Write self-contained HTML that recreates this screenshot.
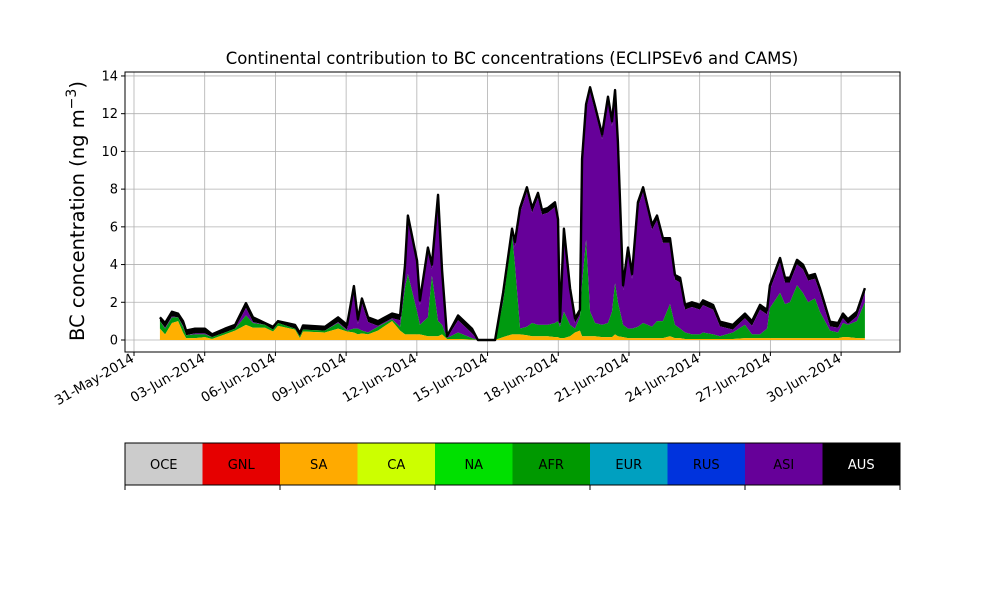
<!DOCTYPE html>
<html><head><meta charset="utf-8"><style>
body{margin:0;background:#fff}
svg text{font-family:"DejaVu Sans","Liberation Sans",sans-serif}
</style></head><body>
<svg id="chart" width="1000" height="600" xmlns="http://www.w3.org/2000/svg">
<rect width="1000" height="600" fill="#fff"/>
<text x="512" y="64" font-size="16.5" text-anchor="middle">Continental contribution to BC concentrations (ECLIPSEv6 and CAMS)</text>
<text transform="translate(84,211) rotate(-90)" font-size="19.5" text-anchor="middle">BC concentration (ng m<tspan dy="-8" font-size="14">−3</tspan><tspan dy="8">)</tspan></text>
<g id="grid"></g><g id="areas"></g><g id="axes"></g><g id="cbar"></g>
</svg>
<script>
const days=[1.10,1.32,1.61,1.87,2.08,2.21,2.59,3.01,3.31,3.86,4.29,4.75,5.05,5.56,5.90,6.11,6.83,7.04,7.17,8.10,8.66,9.04,9.33,9.50,9.67,9.93,10.35,10.95,11.29,11.50,11.62,12.01,12.13,12.47,12.64,12.90,13.07,13.28,13.75,14.34,14.59,15.32,15.66,16.04,16.16,16.38,16.67,16.89,17.14,17.31,17.56,17.86,17.99,18.07,18.24,18.50,18.71,18.92,19.01,19.18,19.35,19.56,19.86,20.11,20.28,20.41,20.53,20.75,20.96,21.13,21.38,21.60,21.98,22.19,22.44,22.74,22.95,23.17,23.38,23.67,24.01,24.14,24.57,24.86,25.41,25.92,26.22,26.56,26.86,26.98,27.41,27.62,27.83,28.13,28.38,28.60,28.89,29.10,29.53,29.87,30.08,30.29,30.67,31.01];
const totalVals=[1.2,0.9,1.5,1.4,1.0,0.5,0.6,0.6,0.3,0.6,0.8,1.95,1.2,0.9,0.7,1.0,0.8,0.37,0.77,0.7,1.2,0.8,2.86,1.1,2.2,1.2,1.0,1.4,1.3,4.0,6.6,4.2,2.1,4.9,4.0,7.7,3.7,0.2,1.3,0.6,0,0,2.5,5.9,5.2,7.0,8.1,7.0,7.8,6.9,7.0,7.3,6.4,0.97,5.9,2.75,1.15,1.6,9.6,12.5,13.4,12.4,10.9,12.9,11.6,13.25,10.5,2.9,4.9,3.5,7.3,8.1,6.1,6.6,5.4,5.4,3.45,3.3,1.86,2.0,1.86,2.1,1.86,0.97,0.8,1.4,1.0,1.86,1.6,2.9,4.35,3.3,3.3,4.25,4.0,3.4,3.5,2.75,0.97,0.9,1.4,1.1,1.5,2.75];
const saAfrVals=[1.0,0.6,1.2,1.2,0.7,0.25,0.3,0.3,0.15,0.4,0.6,1.3,0.9,0.8,0.55,0.9,0.6,0.2,0.55,0.5,0.9,0.5,0.6,0.6,0.5,0.4,0.7,1.1,0.7,2.8,3.5,1.5,0.8,1.2,3.4,1.0,0.8,0.1,0.4,0.1,0,0,2.0,5.6,4.0,0.6,0.7,0.9,0.8,0.8,0.8,0.9,1.0,0.7,1.5,0.8,0.6,1.2,3.0,5.3,1.5,0.9,0.8,0.9,1.5,3.0,2.0,0.8,0.6,0.6,0.7,0.9,0.7,1.0,1.0,1.9,0.8,0.6,0.4,0.3,0.3,0.4,0.3,0.2,0.4,0.8,0.3,0.3,0.6,1.7,2.5,1.9,2.0,2.9,2.5,2.0,2.2,1.5,0.5,0.4,0.9,0.8,1.0,2.0];
const saVals=[0.6,0.3,0.9,1.0,0.4,0.1,0.1,0.15,0.05,0.3,0.5,0.8,0.65,0.65,0.45,0.75,0.55,0.1,0.45,0.4,0.6,0.45,0.4,0.3,0.35,0.3,0.5,1.0,0.5,0.3,0.3,0.3,0.3,0.2,0.2,0.2,0.3,0.05,0.05,0.02,0,0,0.15,0.3,0.3,0.3,0.25,0.2,0.2,0.2,0.2,0.15,0.15,0.1,0.1,0.2,0.4,0.5,0.2,0.2,0.2,0.2,0.15,0.15,0.15,0.3,0.2,0.15,0.1,0.1,0.1,0.1,0.1,0.1,0.1,0.2,0.1,0.1,0.05,0.05,0.05,0.05,0.05,0.05,0.05,0.1,0.1,0.1,0.1,0.1,0.1,0.1,0.1,0.1,0.1,0.1,0.1,0.1,0.1,0.1,0.15,0.15,0.1,0.1];
const yTicks=[0,2,4,6,8,10,12,14];
const xTickDays=[0,3,6,9,12,15,18,21,24,27,30];
const xTickLabels=["31-May-2014","03-Jun-2014","06-Jun-2014","09-Jun-2014","12-Jun-2014","15-Jun-2014","18-Jun-2014","21-Jun-2014","24-Jun-2014","27-Jun-2014","30-Jun-2014"];
const regions=["OCE","GNL","SA","CA","NA","AFR","EUR","RUS","ASI","AUS"];
const regionColors=["#cccccc","#e60000","#ffaa00","#ccff00","#00e000","#009900","#00a0c0","#0033dd","#660099","#000000"];

const NS="http://www.w3.org/2000/svg";
const PL=125,PR=900,PT=72,PB=352;
const xs=d=>134+d*23.57, ys=v=>340-v*18.86;
function mk(tag,attrs,parent){const e=document.createElementNS(NS,tag);for(const k in attrs)e.setAttribute(k,attrs[k]);parent.appendChild(e);return e;}
const gridG=document.getElementById('grid'),areasG=document.getElementById('areas'),axesG=document.getElementById('axes'),cbarG=document.getElementById('cbar');
yTicks.forEach(v=>{
 const g=mk('line',{x1:PL,x2:PR,y1:ys(v),y2:ys(v),stroke:'#b0b0b0','stroke-width':0.8},gridG);
 
 
 const t=mk('line',{x1:PL-4,x2:PL,y1:ys(v),y2:ys(v),stroke:'#000'},axesG);
 
 
 const lb=mk('text',{x:PL-7,y:ys(v)+4.5,'font-size':13,'text-anchor':'end'},axesG);lb.textContent=v;
 
 
});
xTickDays.forEach((d,i)=>{
 const g=mk('line',{x1:xs(d),x2:xs(d),y1:PT,y2:PB,stroke:'#b0b0b0','stroke-width':0.8},gridG);
 
 
 const t=mk('line',{x1:xs(d),x2:xs(d),y1:PB,y2:PB+4,stroke:'#000'},axesG);
 
 
 const lb=mk('text',{transform:`translate(${xs(d)+1},${PB+9}) rotate(-30)`,'font-size':13.5,'text-anchor':'end'},axesG);lb.textContent=xTickLabels[i];
 
 
});
function band(lo,hi,color,name){
 let p='M'+days.map((d,i)=>xs(d)+','+ys(hi[i])).join(' L');
 for(let i=days.length-1;i>=0;i--)p+=' L'+xs(days[i])+','+ys(lo[i]);
 const e=mk('path',{d:p+'Z',fill:color},areasG);
 
 
}
const zeroVals=days.map(()=>0);
band(saAfrVals.map((v,i)=>Math.max(v,totalVals[i]-0.25)),totalVals.map(v=>v),'#000','aus-area');
band(saAfrVals,totalVals.map((v,i)=>Math.max(saAfrVals[i],v-0.25)),'#660099','asi-area');
band(saVals,saAfrVals,'#009a10','afr-area');
band(zeroVals,saVals,'#ffb000','sa-area');
const outline=mk('path',{d:'M'+days.map((d,i)=>xs(d)+','+ys(totalVals[i])).join(' L'),fill:'none',stroke:'#000','stroke-width':2.4,'stroke-linejoin':'round'},areasG);


const fr=mk('rect',{x:PL,y:PT,width:PR-PL,height:PB-PT,fill:'none',stroke:'#000','stroke-width':1},axesG);


const cw=(PR-PL)/regions.length;
regions.forEach((r,i)=>{
 const rc=mk('rect',{x:PL+i*cw,y:443,width:cw,height:42,fill:regionColors[i]},cbarG);
 
 
 const tx=mk('text',{x:PL+i*cw+cw/2,y:469,'font-size':13,'text-anchor':'middle',fill:r==='AUS'?'#fff':'#000'},cbarG);tx.textContent=r;
 
 
});
const cf=mk('rect',{x:PL,y:443,width:PR-PL,height:42,fill:'none',stroke:'#000','stroke-width':1},cbarG);


for(let i=0;i<=regions.length;i+=2){
 const t=mk('line',{x1:PL+i*cw,x2:PL+i*cw,y1:485,y2:490,stroke:'#000'},cbarG);
 
 
}
</script>
</body></html>
